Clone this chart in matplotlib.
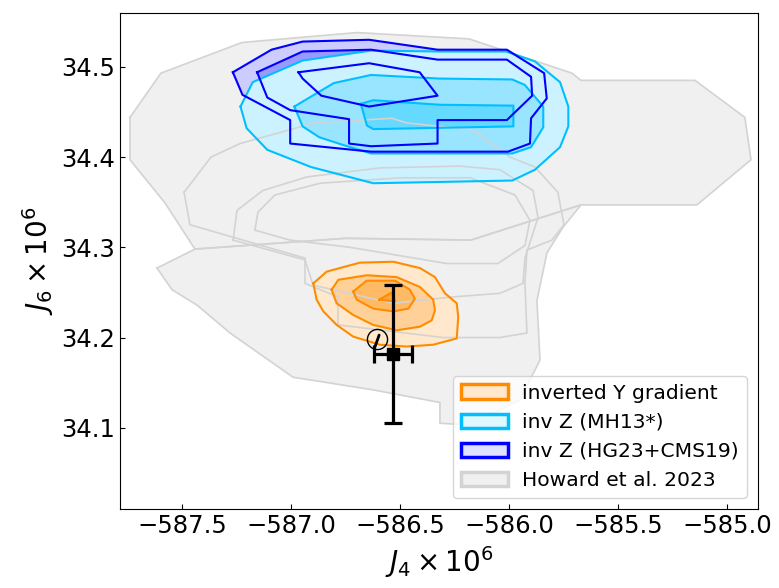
import matplotlib
matplotlib.use("Agg")
import matplotlib.pyplot as plt
import matplotlib.colors as mc
from matplotlib.patches import Patch
import numpy as np

# ---------------- data (J4 x 1e6, J6 x 1e6) ----------------
# Howard et al. 2023 (gray contours)
gray_upper = [(-587.740, 34.444), (-587.598, 34.493), (-587.226, 34.527), (-586.699, 34.538),
              (-586.185, 34.531), (-585.712, 34.493), (-585.671, 34.485), (-585.148, 34.485),
              (-584.919, 34.444), (-584.891, 34.397), (-585.139, 34.347), (-585.671, 34.347),
              (-586.176, 34.308), (-586.749, 34.310), (-587.442, 34.298), (-587.579, 34.349),
              (-587.740, 34.397)]
gray_lower = [(-587.616, 34.277), (-587.442, 34.298), (-586.749, 34.310), (-586.176, 34.308),
              (-585.671, 34.347), (-585.754, 34.322), (-585.827, 34.294), (-585.873, 34.241),
              (-585.859, 34.175), (-585.951, 34.131), (-586.180, 34.103), (-586.318, 34.105),
              (-586.318, 34.128), (-586.625, 34.142), (-586.992, 34.156), (-587.281, 34.205),
              (-587.433, 34.236), (-587.547, 34.253)]
gray_mid1 = [(-587.492, 34.361), (-587.368, 34.400), (-587.235, 34.415), (-586.891, 34.438),
             (-586.538, 34.443), (-586.474, 34.438), (-586.167, 34.430), (-585.997, 34.400),
             (-585.882, 34.389), (-585.777, 34.361), (-585.749, 34.325), (-585.804, 34.308),
             (-585.919, 34.297), (-585.928, 34.260), (-585.919, 34.205), (-586.043, 34.200),
             (-586.304, 34.200), (-586.786, 34.214), (-586.786, 34.245), (-586.937, 34.260),
             (-586.937, 34.288), (-587.465, 34.325)]
gray_mid2 = [(-587.267, 34.308), (-587.249, 34.341), (-587.130, 34.363), (-586.928, 34.378),
             (-586.593, 34.388), (-586.226, 34.390), (-586.043, 34.386), (-585.891, 34.363),
             (-585.868, 34.333), (-585.928, 34.288), (-585.937, 34.260), (-586.043, 34.249),
             (-586.258, 34.245), (-586.534, 34.238), (-586.900, 34.258), (-586.937, 34.286)]
gray_mid3 = [(-587.167, 34.319), (-587.153, 34.339), (-587.075, 34.358), (-586.868, 34.371),
             (-586.501, 34.377), (-586.180, 34.377), (-585.974, 34.358), (-585.905, 34.330),
             (-585.928, 34.302), (-586.052, 34.282), (-586.286, 34.282), (-586.731, 34.300),
             (-587.006, 34.308)]
gray_contours = [gray_upper, gray_lower, gray_mid1, gray_mid2, gray_mid3]

# inv Z (HG23+CMS19) -- blue
blue_outer = [(-587.268, 34.494), (-587.224, 34.469), (-587.005, 34.441), (-587.005, 34.415),
              (-586.634, 34.406), (-586.006, 34.406), (-585.905, 34.415), (-585.900, 34.443),
              (-585.828, 34.465), (-585.840, 34.493), (-586.011, 34.519), (-586.329, 34.519),
              (-586.643, 34.530), (-586.948, 34.528), (-587.091, 34.519)]
blue_middle = [(-587.157, 34.494), (-586.948, 34.517), (-586.634, 34.519), (-586.329, 34.508),
               (-586.011, 34.508), (-585.900, 34.489), (-585.895, 34.468), (-586.011, 34.441),
               (-586.329, 34.441), (-586.329, 34.415), (-586.634, 34.412), (-586.735, 34.415),
               (-586.735, 34.442), (-587.005, 34.452), (-587.110, 34.466)]
blue_inner = [(-586.967, 34.494), (-586.643, 34.504), (-586.411, 34.494), (-586.329, 34.468),
              (-586.643, 34.456), (-586.862, 34.468), (-586.948, 34.487)]
blue_contours = [blue_outer, blue_middle, blue_inner]

# inv Z (MH13*) -- cyan
cyan_outer = [(-587.233, 34.456), (-587.177, 34.483), (-586.948, 34.507), (-586.634, 34.518),
              (-586.320, 34.517), (-586.015, 34.517), (-585.882, 34.506), (-585.767, 34.483),
              (-585.729, 34.456), (-585.729, 34.434), (-585.767, 34.411), (-585.882, 34.386),
              (-585.986, 34.374), (-586.624, 34.371), (-586.910, 34.389), (-587.110, 34.408),
              (-587.205, 34.432)]
cyan_middle = [(-586.986, 34.456), (-586.948, 34.434), (-586.872, 34.422), (-586.757, 34.413),
               (-586.634, 34.404), (-585.986, 34.404), (-585.900, 34.411), (-585.844, 34.433),
               (-585.844, 34.456), (-585.929, 34.480), (-585.986, 34.486), (-586.320, 34.487),
               (-586.634, 34.491), (-586.805, 34.482)]
cyan_inner = [(-586.681, 34.459), (-586.624, 34.463), (-586.320, 34.458), (-585.981, 34.457),
              (-585.981, 34.434), (-586.624, 34.431), (-586.653, 34.435)]
cyan_contours = [cyan_outer, cyan_middle, cyan_inner]

# inverted Y gradient -- orange
orange_outer = [(-586.899, 34.260), (-586.838, 34.273), (-586.685, 34.283), (-586.532, 34.284),
                (-586.410, 34.277), (-586.341, 34.267), (-586.295, 34.249), (-586.241, 34.238),
                (-586.234, 34.223), (-586.241, 34.199), (-586.349, 34.192), (-586.471, 34.190),
                (-586.593, 34.192), (-586.716, 34.201), (-586.792, 34.214), (-586.853, 34.229),
                (-586.884, 34.242)]
orange_middle = [(-586.815, 34.253), (-586.784, 34.264), (-586.654, 34.269), (-586.517, 34.267),
                 (-586.410, 34.256), (-586.349, 34.242), (-586.341, 34.230), (-586.356, 34.219),
                 (-586.410, 34.212), (-586.517, 34.208), (-586.624, 34.214), (-586.716, 34.225),
                 (-586.792, 34.238)]
orange_inner = [(-586.716, 34.251), (-586.654, 34.263), (-586.524, 34.263), (-586.456, 34.253),
                (-586.433, 34.243), (-586.463, 34.232), (-586.532, 34.229), (-586.624, 34.232),
                (-586.700, 34.242)]
orange_core = [(-586.596, 34.242), (-586.539, 34.250), (-586.524, 34.240)]
orange_contours = [orange_outer, orange_middle, orange_inner, orange_core]

# Juno measurement and Jupiter symbol
obs_j4, obs_j6 = -586.532, 34.182
obs_j4_err, obs_j6_err = 0.0865, 0.0767
jup_j4, jup_j6 = -586.608, 34.198
jup_stroke_j4 = [-586.616, -586.597]
jup_stroke_j6 = [34.1897, 34.2027]

legend_labels = ["inverted Y gradient", "inv Z (MH13*)", "inv Z (HG23+CMS19)", "Howard et al. 2023"]
xticks = [-587.5, -587.0, -586.5, -586.0, -585.5, -585.0]
yticks = [34.1, 34.2, 34.3, 34.4, 34.5]

# ---------------- plotting ----------------
def blend(color, a):
    rgb = np.array(mc.to_rgb(color))
    return tuple(1 - a * (1 - rgb))

GRAY_FACE = "#f0f0f0"
GRAY_EDGE = "#d3d3d3"
BLUE = "#0000ff"
CYAN = "#00bfff"
ORANGE = "#ff8c00"

fig = plt.figure(figsize=(7.79, 5.88), dpi=100)
ax = fig.add_axes([0.154, 0.1338, 0.819, 0.8446])

def xy(poly):
    a = np.array(poly + [poly[0]])
    return a[:, 0], a[:, 1]

for p in gray_contours:
    x, y = xy(p)
    ax.fill(x, y, facecolor=GRAY_FACE, edgecolor="none", zorder=1)
for i, p in enumerate(blue_contours):
    x, y = xy(p)
    ax.fill(x, y, facecolor=blend(BLUE, 0.2 * (i + 1)), edgecolor="none", zorder=2)
for i, p in enumerate(cyan_contours):
    x, y = xy(p)
    ax.fill(x, y, facecolor=blend(CYAN, 0.2 * (i + 1)), edgecolor="none", zorder=3)
for i, p in enumerate(orange_contours):
    x, y = xy(p)
    ax.fill(x, y, facecolor=blend(ORANGE, 0.2 * (i + 1)), edgecolor="none", zorder=4)

for p in gray_contours:
    x, y = xy(p)
    ax.plot(x, y, color=GRAY_EDGE, lw=1.2, zorder=5)
for p in cyan_contours:
    x, y = xy(p)
    ax.plot(x, y, color=CYAN, lw=1.5, zorder=6)
for p in blue_contours:
    x, y = xy(p)
    ax.plot(x, y, color=BLUE, lw=1.5, zorder=7)
for p in orange_contours:
    x, y = xy(p)
    ax.plot(x, y, color=ORANGE, lw=1.5, zorder=8)

ax.errorbar([obs_j4], [obs_j6], xerr=[obs_j4_err], yerr=[obs_j6_err], fmt="s", color="black",
            ms=8.5, elinewidth=2.3, capsize=6.6, capthick=2.3, zorder=10)
ax.plot([jup_j4], [jup_j6], marker="o", ms=14.5, mfc="none", mec="black", mew=1.0,
        ls="none", zorder=10)
ax.plot(jup_stroke_j4, jup_stroke_j6, color="black", lw=2.0, solid_capstyle="round", zorder=10)

handles = [
    Patch(facecolor=blend(ORANGE, 0.2), edgecolor=ORANGE, lw=2.5),
    Patch(facecolor=blend(CYAN, 0.12), edgecolor=CYAN, lw=2.5),
    Patch(facecolor=blend(BLUE, 0.12), edgecolor=BLUE, lw=2.5),
    Patch(facecolor=GRAY_FACE, edgecolor=GRAY_EDGE, lw=2.5),
]
leg = ax.legend(handles, legend_labels, loc="lower right", fontsize=14.6, handlelength=2.3,
                handletextpad=0.7, borderaxespad=0.55, framealpha=0.8)
leg.set_zorder(20)

ax.set_xlim(-587.786, -584.859)
ax.set_ylim(34.0096, 34.560)
ax.set_xticks(xticks)
ax.set_yticks(yticks)
ax.tick_params(direction="in", labelsize=17.5)
ax.set_xlabel(r"$J_4 \times 10^6$", fontsize=20)
ax.set_ylabel(r"$J_6 \times 10^6$", fontsize=20)

fig.savefig("out.png", dpi=100)
